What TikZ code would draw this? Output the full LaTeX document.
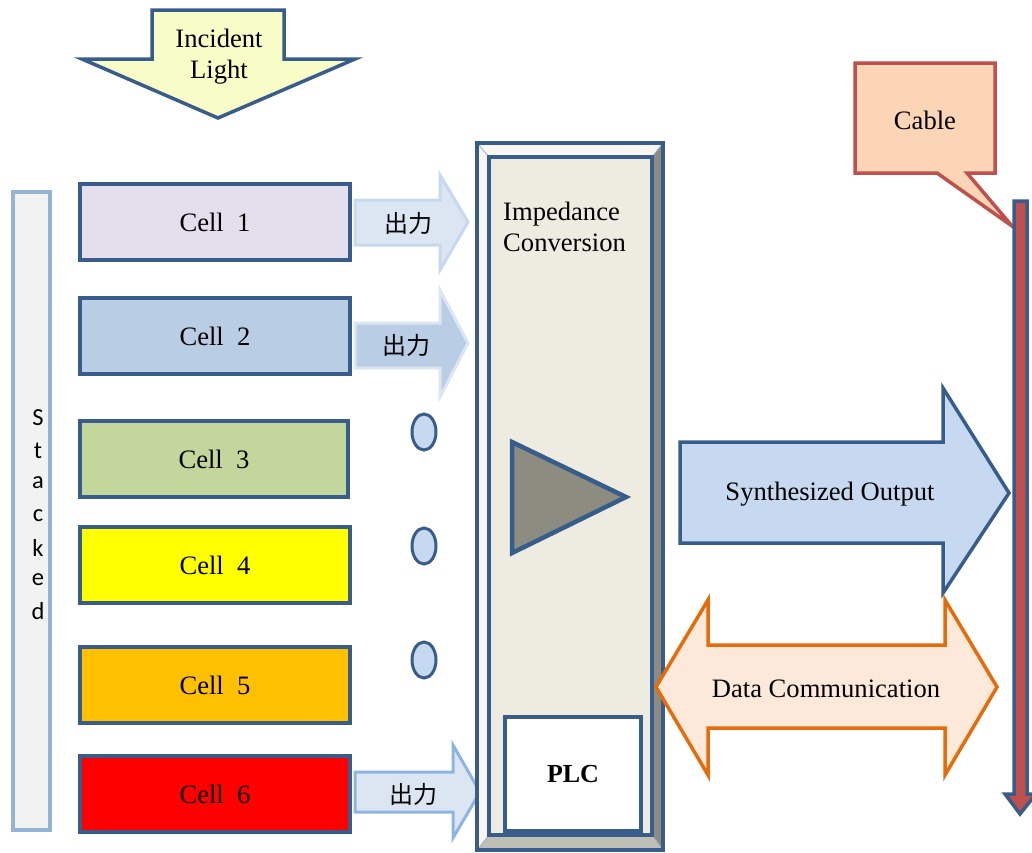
\documentclass[tikz,border=0pt]{standalone}
\usepackage{fontspec}
\usetikzlibrary{shapes.geometric}
\setmainfont{Liberation Serif}
\newfontfamily\cjk{Noto Sans CJK JP}
\newfontfamily\carl{Carlito}
\definecolor{dblue}{HTML}{385D8A}
\definecolor{stkline}{HTML}{95B3D7}
\definecolor{stkfill}{HTML}{F2F2F2}
\definecolor{cA}{HTML}{E4DFEC}
\definecolor{cB}{HTML}{B9CDE5}
\definecolor{cC}{HTML}{C3D69B}
\definecolor{cD}{HTML}{FFFF00}
\definecolor{cE}{HTML}{FFC000}
\definecolor{cF}{HTML}{FF0000}
\definecolor{lightfill}{HTML}{F8FCC6}
\definecolor{outA}{HTML}{DCE6F2}
\definecolor{outAl}{HTML}{C6D9F1}
\definecolor{outCl}{HTML}{8EB4E3}
\definecolor{framefill}{HTML}{EEECE1}
\definecolor{bevlight}{HTML}{F7F6F0}
\definecolor{bevdark}{HTML}{8C8C84}
\definecolor{bevbot}{HTML}{BFBFB6}
\definecolor{trifill}{HTML}{8C8C80}
\definecolor{synfill}{HTML}{C6D9F1}
\definecolor{datafill}{HTML}{FDE9D9}
\definecolor{dataline}{HTML}{E46C0A}
\definecolor{cabfill}{HTML}{FBD5B5}
\definecolor{cabline}{HTML}{C0504D}
\tikzset{
  txt/.style={font=\fontsize{26.6}{31}\selectfont, inner sep=0pt},
  cellbox/.style={draw=dblue, line width=3.2pt},
  blk/.style={line width=3.5pt, line join=miter},
  dotell/.style={draw=dblue, fill=synfill, line width=3pt},
  cjktxt/.style={font=\cjk\fontsize{24}{26}\selectfont, inner sep=0pt},
}
\begin{document}
\begin{tikzpicture}[x=1pt,y=-1pt]
\useasboundingbox (0,0) rectangle (1032,852);
\clip (0,0) rectangle (1032,852);
% Incident light
\draw[blk, draw=dblue, fill=lightfill] (152,10) -- (284,10) -- (284,59) -- (355,59) -- (218,118) -- (82,59) -- (152,59) -- cycle;
\node[txt, align=center] (light) at (219,57) {Incident\\Light};
% Stacked bar
\draw[draw=stkline, fill=stkfill, line width=3.5pt] (13,192) rectangle (50,830);
\foreach \l/\yy [count=\i] in {S/418,t/451,a/483,c/516,k/548,e/580,d/611}
  \node[font=\carl\fontsize{24.5}{26}\selectfont, inner sep=0pt] (stk\i) at (38,\yy) {\l};
% Cells
\node[cellbox, fill=cA, minimum width=270pt, minimum height=76pt, txt] (cell1) at (215,222) {Cell~~1};
\node[cellbox, fill=cB, minimum width=270pt, minimum height=76pt, txt] (cell2) at (215,336) {Cell~~2};
\node[cellbox, fill=cC, minimum width=268pt, minimum height=76pt, txt] (cell3) at (214,459) {Cell~~3};
\node[cellbox, fill=cD, minimum width=270pt, minimum height=76pt, txt] (cell4) at (215,565) {Cell~~4};
\node[cellbox, fill=cE, minimum width=270pt, minimum height=76pt, txt] (cell5) at (215,685) {Cell~~5};
\node[cellbox, fill=cF, minimum width=270pt, minimum height=76pt, txt] (cell6) at (215,794) {Cell~~6};
% output arrows
\draw[line width=3pt, draw=outAl, fill=outA] (355,200) -- (440,200) -- (440,175) -- (468,222) -- (440,270) -- (440,245) -- (355,245) -- cycle;
\node[cjktxt] (out1) at (408,223) {出力};
\draw[line width=3pt, draw=outA, fill=cB] (355,323) -- (440,323) -- (440,290) -- (468,343) -- (440,397) -- (440,368) -- (355,368) -- cycle;
\node[cjktxt] (out2) at (406,345) {出力};
\draw[line width=3pt, draw=outCl, fill=outA] (355,772) -- (453,772) -- (453,745) -- (480,792) -- (453,838) -- (453,812) -- (355,812) -- cycle;
\node[cjktxt] (out6) at (413,794) {出力};
% dots
\node[dotell, ellipse, minimum width=24pt, minimum height=36pt, inner sep=0pt] (e1) at (424,432) {};
\node[dotell, ellipse, minimum width=24pt, minimum height=36pt, inner sep=0pt] (e2) at (424,546) {};
\node[dotell, ellipse, minimum width=24pt, minimum height=36pt, inner sep=0pt] (e3) at (424,660) {};
% Impedance frame
\fill[bevlight] (477,143) -- (663,143) -- (652,157) -- (489,157) -- (489,835) -- (477,850) -- cycle;
\fill[bevdark] (663,143) -- (663,850) -- (652,835) -- (652,157) -- cycle;
\fill[bevbot] (477,850) -- (663,850) -- (652,835) -- (489,835) -- cycle;
\draw[dblue!50, line width=0.8pt] (477,143) -- (489,157) (663,143) -- (652,157) (477,850) -- (489,835) (663,850) -- (652,835);
\draw[draw=dblue, fill=framefill, line width=3.5pt] (489,157) rectangle (652,835);
\draw[draw=dblue, line width=4pt] (477,143) rectangle (663,850);
\node[txt, align=left, anchor=north west] (imp) at (503,202) {Impedance\\Conversion};
\draw[draw=dblue, fill=trifill, line width=4.5pt, line join=miter] (512,442) -- (626,497) -- (512,553) -- cycle;
\node[draw=dblue, fill=white, line width=4.5pt, minimum width=136pt, minimum height=114pt, font=\bfseries\fontsize{26}{28}\selectfont, inner sep=0pt] (plc) at (573,774) {PLC};
% Synthesized output
\draw[blk, draw=dblue, fill=synfill] (680,442) -- (943,442) -- (943,388) -- (1009,493) -- (943,593) -- (943,543) -- (680,543) -- cycle;
\node[txt] (syn) at (830,494) {Synthesized Output};
% Data communication
\draw[blk, draw=dataline, fill=datafill] (656,687) -- (708,600) -- (708,645) -- (945,645) -- (945,600) -- (997,687) -- (945,775) -- (945,728) -- (708,728) -- (708,775) -- cycle;
\node[txt] (data) at (826,689) {Data Communication};
% Cable
\draw[blk, draw=cabline, fill=cabfill] (855,63) -- (995,63) -- (995,173) -- (967,173) -- (1012,226) -- (937,173) -- (855,173) -- cycle;
\node[txt] (cable) at (925,120) {Cable};
\draw[draw=dblue, fill=cabline, line width=3.5pt, line join=miter] (1014,201) -- (1027,201) -- (1027,794) -- (1036,794) -- (1020,814) -- (1005,794) -- (1014,794) -- cycle;
\coordinate (cabtip) at (1020,814);
\end{tikzpicture}
\end{document}
